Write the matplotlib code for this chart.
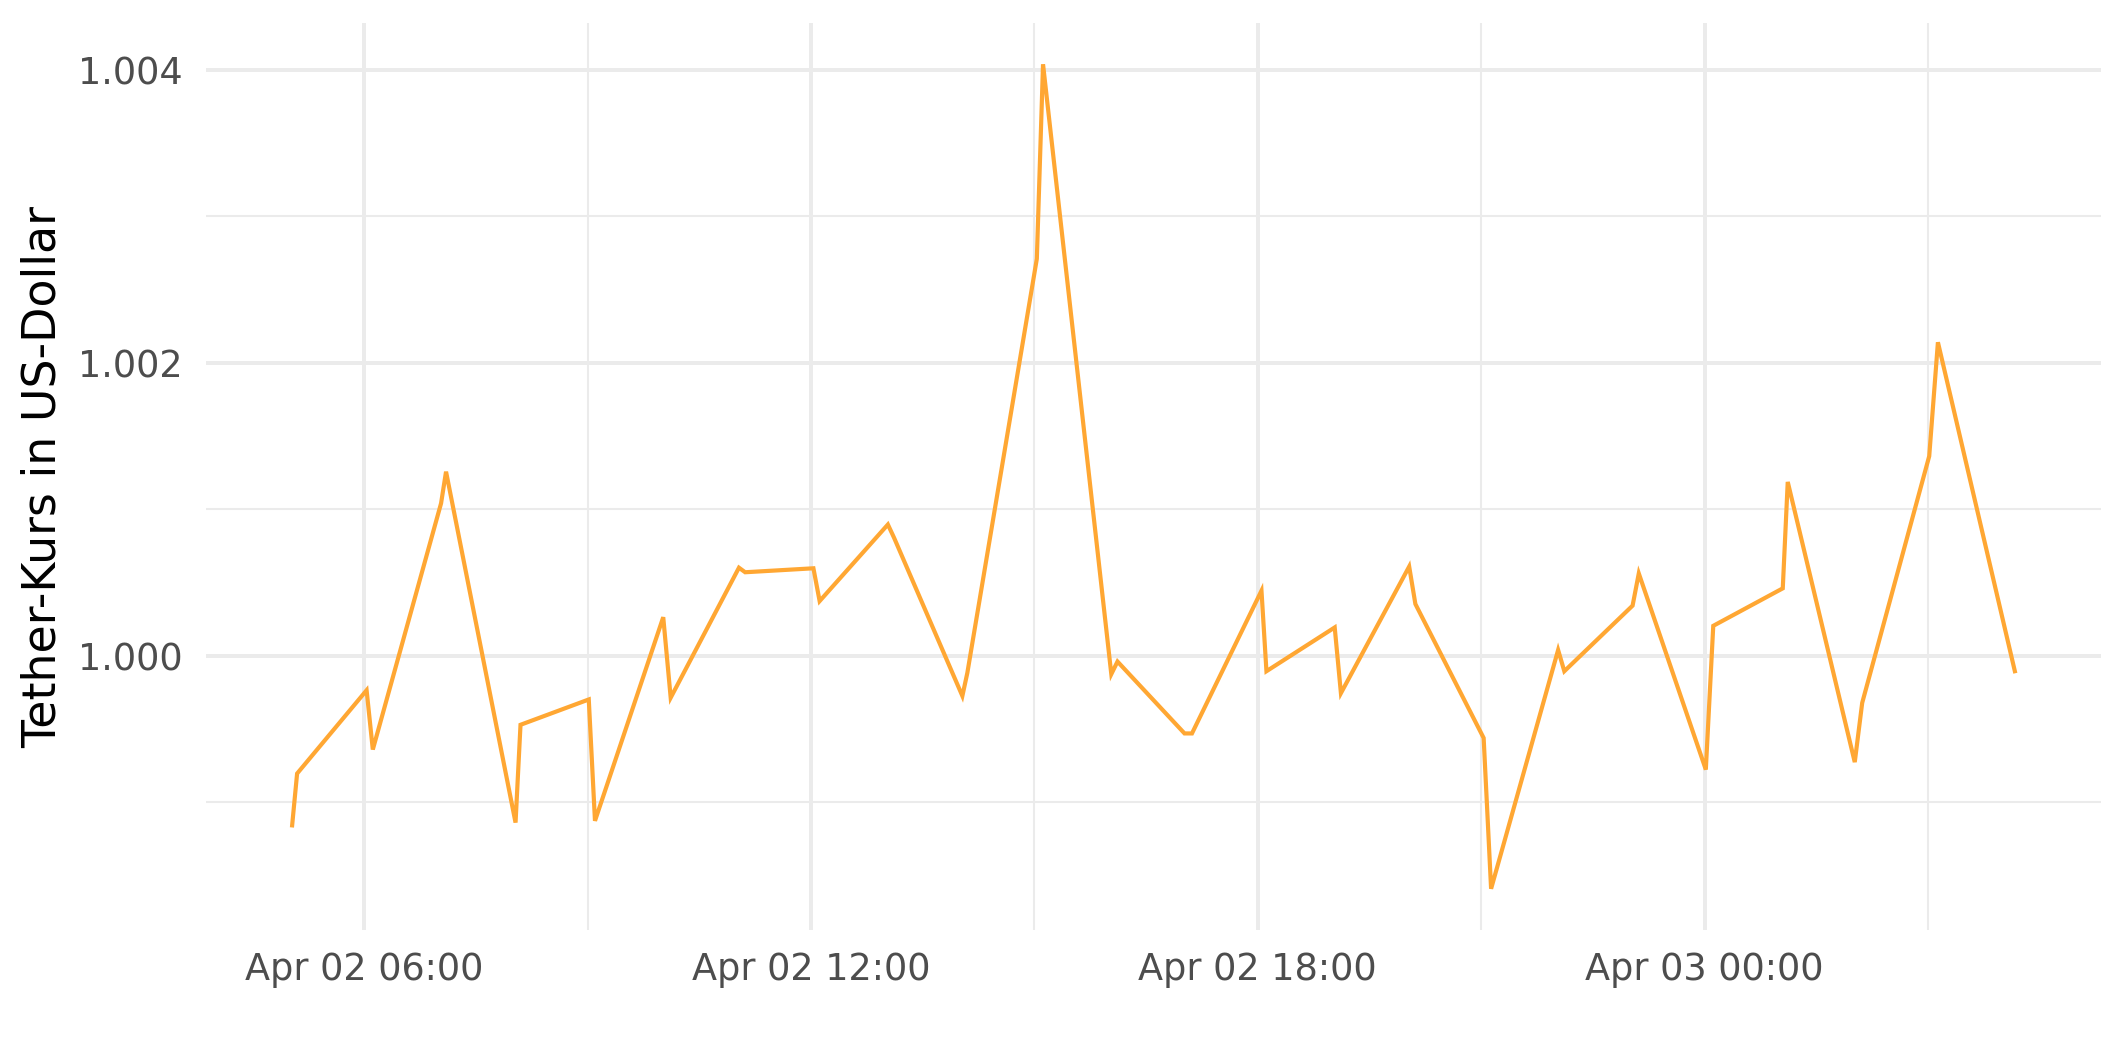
import matplotlib
matplotlib.use("Agg")
import matplotlib.pyplot as plt
import matplotlib.dates as mdates
from matplotlib.ticker import FixedLocator, FormatStrFormatter
import numpy as np
import pandas as pd

# Zeitpunkte (Stundenwerte, jeweils zwei Messungen kurz nach der vollen Stunde)
times = [
    "2024-04-02 05:02", "2024-04-02 05:06", "2024-04-02 06:02", "2024-04-02 06:07",
    "2024-04-02 07:02", "2024-04-02 07:06", "2024-04-02 08:02", "2024-04-02 08:06",
    "2024-04-02 09:01", "2024-04-02 09:06", "2024-04-02 10:01", "2024-04-02 10:07",
    "2024-04-02 11:02", "2024-04-02 11:07", "2024-04-02 12:02", "2024-04-02 12:07",
    "2024-04-02 13:02", "2024-04-02 13:07", "2024-04-02 14:02", "2024-04-02 14:06",
    "2024-04-02 15:02", "2024-04-02 15:07", "2024-04-02 16:02", "2024-04-02 16:07",
    "2024-04-02 17:01", "2024-04-02 17:07", "2024-04-02 18:03", "2024-04-02 18:07",
    "2024-04-02 19:02", "2024-04-02 19:07", "2024-04-02 20:02", "2024-04-02 20:07",
    "2024-04-02 21:02", "2024-04-02 21:08", "2024-04-02 22:02", "2024-04-02 22:07",
    "2024-04-02 23:02", "2024-04-02 23:07", "2024-04-03 00:01", "2024-04-03 00:07",
    "2024-04-03 01:03", "2024-04-03 01:07", "2024-04-03 02:01", "2024-04-03 02:07",
    "2024-04-03 03:01", "2024-04-03 03:08", "2024-04-03 04:10",
]

price = [
    0.998841, 0.999195, 0.999764, 0.999359,
    1.001041, 1.001257, 0.998860, 0.999528,
    0.999701, 0.998872, 1.000263, 0.999713,
    1.000601, 1.000570, 1.000597, 1.000373,
    1.000896, 1.000805, 0.999725, 0.999882,
    1.002711, 1.004040, 0.999874, 0.999960,
    0.999469, 0.999469, 1.000444, 0.999894,
    1.000193, 0.999744, 1.000609, 1.000353,
    0.999438, 0.998408, 1.000039, 0.999894,
    1.000342, 1.000562, 0.999222, 1.000204,
    1.000460, 1.001187, 0.999273, 0.999678,
    1.001363, 1.002141, 0.999894,
]

y_major = [1.000, 1.002, 1.004]
y_minor = [0.999, 1.001, 1.003]

t = pd.to_datetime(times)

dpi = 300
fig = plt.figure(figsize=(2125 / dpi, 1062 / dpi), dpi=dpi)
ax = fig.add_axes([206 / 2125, 132 / 1062, 1895 / 2125, 907 / 1062])

ax.plot(t, price, color="#FFA733", linewidth=1.0, solid_joinstyle="miter", zorder=3)

# ggplot-artige Ausdehnung um 5 %
xn = mdates.date2num(t)
xpad = (xn.max() - xn.min()) * 0.05
ax.set_xlim(xn.min() - xpad, xn.max() + xpad)
ypad = (max(price) - min(price)) * 0.05
ax.set_ylim(min(price) - ypad, max(price) + ypad)

ax.xaxis.set_major_locator(mdates.HourLocator(byhour=[0, 6, 12, 18]))
ax.xaxis.set_minor_locator(mdates.HourLocator(byhour=[3, 9, 15, 21]))
ax.xaxis.set_major_formatter(mdates.DateFormatter("%b %d %H:%M"))
ax.yaxis.set_major_locator(FixedLocator(y_major))
ax.yaxis.set_minor_locator(FixedLocator(y_minor))
ax.yaxis.set_major_formatter(FormatStrFormatter("%.3f"))

ax.grid(which="major", color="#EBEBEB", linewidth=0.95)
ax.grid(which="minor", color="#EBEBEB", linewidth=0.5)
ax.set_axisbelow(True)
for s in ax.spines.values():
    s.set_visible(False)

ax.tick_params(which="both", length=0)
ax.tick_params(axis="x", labelsize=8.8, labelcolor="#4D4D4D", pad=5)
ax.tick_params(axis="y", labelsize=8.8, labelcolor="#4D4D4D", pad=5.5)
ax.set_ylabel("Tether-Kurs in US-Dollar", fontsize=11, color="black", labelpad=3)

fig.savefig("out.png", dpi=dpi, facecolor="white")
